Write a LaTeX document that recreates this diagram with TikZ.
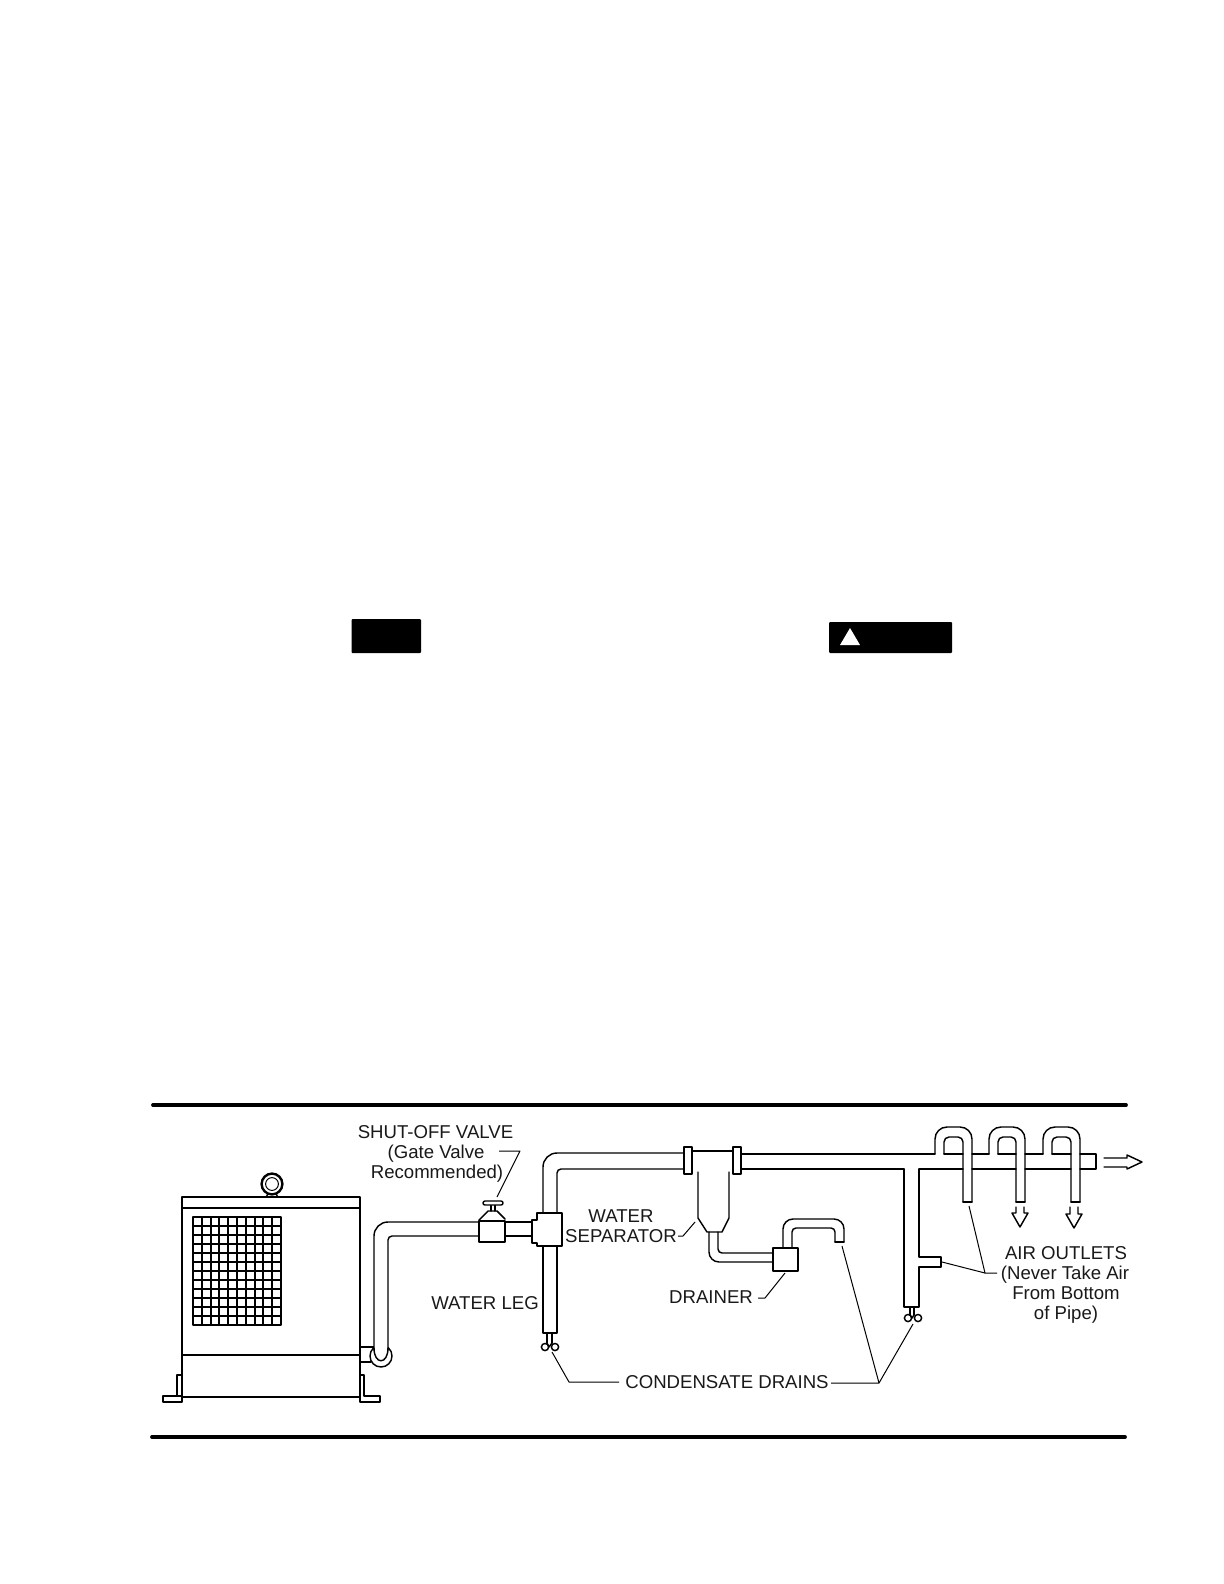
\documentclass[tikz,border=0pt]{standalone}
\usepackage{fontspec}
\setmainfont{Liberation Sans}
\tikzset{
  pipe/.style={line width=0.72pt,line join=round,line cap=round},
  heavy/.style={line width=1pt,line join=round},
  thin line/.style={line width=0.6pt,line join=round},
  leader/.style={line width=0.5pt,line join=round},
  rule/.style={line width=1.9pt,line cap=round},
  lbl/.style={font=\fontsize{9.3}{10}\selectfont,inner sep=0pt,anchor=center,text=black!90,text height=6.66pt,text depth=0pt},
  banner/.style={fill=black,draw=none,rounded corners=0.5pt}
}
\begin{document}
\begin{tikzpicture}[x=0.5pt,y=-0.5pt]
\useasboundingbox (0,0) rectangle (1224,1584);
\fill[white] (0,0) rectangle (1224,1584);
% banners
\fill[banner] (351.5,619) rectangle (421,653);
\fill[banner] (829,622) rectangle (952,653);
\fill[white] (840,645) -- (850,628) -- (860,645) -- cycle;
% rules
\draw[rule] (153,1105) -- (1126,1105);
\draw[rule] (152,1437) -- (1125,1437);
% cabinet
\draw[heavy] (182,1197) rectangle (360,1397);
\draw[pipe] (182,1208) -- (360,1208);
\draw[pipe] (182,1355) -- (360,1355);
% grid
\draw[thin line,line width=0.8pt] (193,1217) rectangle (281,1325);
\foreach \i in {1,...,9} \draw[thin line] ({round(193+8.8*\i)},1217) -- ({round(193+8.8*\i)},1325);
\foreach \i in {1,...,11} \draw[thin line] (193,{1217+9*\i}) -- (281,{1217+9*\i});
% lifting eye
\draw[heavy,line width=1.2pt] (272,1184) circle[radius=5.2pt];
\draw[pipe,line width=0.5pt] (272,1184) circle[radius=3.2pt];
\draw[pipe] (266,1197) -- (268,1194) (278,1197) -- (276,1194);
% feet
\draw[pipe] (182,1396) -- (177,1396) -- (177,1375) -- (182,1375);
\draw[pipe] (177,1396) -- (163,1396) -- (163,1402) -- (182,1402) -- (182,1397);
\draw[pipe] (360,1375) -- (364,1375) -- (364,1396) -- (380,1396) -- (380,1402) -- (360,1402) -- (360,1397);
% trap at cabinet
\draw[pipe] (360,1347) -- (374,1347);
\draw[pipe] (360,1362) -- (371,1362);
\draw[pipe] (381,1356) circle[radius=5.5pt];
\fill[white] (374,1300) rectangle (388,1350);
\draw[pipe] (374,1348) .. controls (374,1365) and (388,1365) .. (388,1348);
% pipe to valve
\draw[pipe,rounded corners=7pt] (374,1350) -- (374,1222) -- (479,1222);
\draw[pipe,rounded corners=2pt] (388,1350) -- (388,1236) -- (479,1236);
\draw[pipe] (505,1222) -- (532,1222) (505,1236) -- (532,1236);
% valve
\draw[heavy] (479,1221) rectangle (505,1242);
\draw[pipe] (479,1220) -- (488,1211) -- (497,1211) -- (505,1219);
\draw[pipe] (491,1205) -- (491,1211) (495,1205) -- (495,1211);
\draw[pipe,fill=white,rounded corners=1pt] (483,1201) rectangle (503,1205);
% tee and water leg
\draw[heavy] (532,1220) -- (537,1220) -- (537,1213) -- (562,1213) -- (562,1246) -- (537,1246) -- (537,1243) -- (532,1243) -- cycle;
\draw[pipe] (543,1246) -- (543,1333) -- (557,1333) -- (557,1246);
\draw[pipe] (547,1333) -- (547,1343) (552,1333) -- (552,1343);
\draw[pipe] (545,1347) circle[radius=1.8pt] (555,1347) circle[radius=1.8pt];
\draw[pipe] (547,1343) -- (549,1347) -- (552,1343);
% riser and main pipe
\draw[pipe,rounded corners=7pt] (543,1213) -- (543,1153) -- (684,1153);
\draw[pipe,rounded corners=2pt] (557,1213) -- (557,1169) -- (684,1169);
\draw[pipe] (684,1147) rectangle (692,1174);
\draw[pipe] (733,1147) rectangle (741,1174);
\draw[pipe] (692,1151) -- (733,1151);
% separator
\draw[pipe] (698,1172) -- (698,1218) -- (707,1232) -- (722,1232) -- (729,1218) -- (729,1172);
\draw[pipe,rounded corners=5pt] (709,1232) -- (709,1262) -- (773,1262);
\draw[pipe,rounded corners=2pt] (718,1232) -- (718,1253) -- (773,1253);
% drainer
\draw[heavy] (773,1248) rectangle (798,1271);
\draw[pipe,rounded corners=5pt] (783,1248) -- (783,1219) -- (844,1219) -- (844,1242);
\draw[pipe,rounded corners=2pt] (835,1242) -- (835,1228) -- (792,1228) -- (792,1248);
\draw[pipe] (835,1242) -- (844,1242);
% main pipe with loops
\draw[pipe] (741,1154) -- (935,1154) (944,1154) -- (963,1154) (972,1154) -- (989,1154) (998,1154) -- (1016,1154) (1025,1154) -- (1043,1154) (1052,1154) -- (1071,1154) (1080,1154) -- (1096,1154) -- (1096,1169) -- (1080,1169);
\draw[pipe] (741,1169) -- (904,1169) (919,1169) -- (963,1169) (972,1169) -- (1016,1169) (1025,1169) -- (1071,1169);
\foreach \a/\b/\c/\d in {935/944/963/972,989/998/1016/1025,1043/1052/1071/1080}{
  \draw[pipe,rounded corners=6pt] (\a,1154) -- (\a,1127) -- (\d,1127) -- (\d,1202);
  \draw[pipe,rounded corners=2.5pt] (\c,1202) -- (\c,1137) -- (\b,1137) -- (\b,1154);
  \draw[pipe] (\c,1202) -- (\d,1202);
}
% branch with side outlet
\draw[pipe] (904,1169) -- (904,1307) -- (919,1307) -- (919,1267) -- (941,1267) -- (941,1257) -- (919,1257) -- (919,1169);
\draw[pipe] (910,1307) -- (910,1315) (914,1307) -- (914,1315);
\draw[pipe] (908,1318) circle[radius=1.8pt] (918,1318) circle[radius=1.8pt];
\draw[pipe] (910,1315) -- (912,1318) -- (914,1315);
% flow arrows
\draw[pipe] (1104,1158) -- (1127,1158) -- (1127,1155) -- (1142,1162) -- (1127,1169) -- (1127,1167) -- (1104,1167);
\foreach \m/\t in {1020/1213,1074/1214}{
  \draw[pipe] ({\m-4},1207) -- ({\m-4},\t) -- ({\m-8},\t) -- (\m,{\t+14}) -- ({\m+8},\t) -- ({\m+4},\t) -- ({\m+4},1207);
}
% labels
\node[lbl] (shutoff) at (435.5,1132) {SHUT-OFF VALVE};
\node[lbl] (gate) at (436,1152) {(Gate Valve};
\node[lbl] (recommended) at (437,1172) {Recommended)};
\node[lbl] (waterleg) at (485,1303) {WATER LEG};
\node[lbl] (water) at (621,1216) {WATER};
\node[lbl] (separator) at (621,1236) {SEPARATOR};
\node[lbl] (drainer) at (711,1297) {DRAINER};
\node[lbl] (condensate) at (727,1382) {CONDENSATE DRAINS};
\node[lbl] (airoutlets) at (1066,1253) {AIR OUTLETS};
\node[lbl] (never) at (1065,1273) {(Never Take Air};
\node[lbl] (from) at (1066,1293) {From Bottom};
\node[lbl] (ofpipe) at (1066,1313) {of Pipe)};
% leaders
\coordinate (valvetop) at (497,1197);
\coordinate (sepwall) at (695,1222);
\coordinate (drainbox) at (785,1273);
\coordinate (leftdrain) at (552,1352);
\coordinate (rightdrain) at (913,1324);
\coordinate (drainpipe) at (842,1246);
\coordinate (outlet1) at (969,1206);
\coordinate (outlet2) at (942,1262);
\draw[leader] (499,1151) -- (520,1151) -- (valvetop);
\draw[leader] (678,1236) -- (683,1236) -- (sepwall);
\draw[leader] (758,1298) -- (765,1298) -- (drainbox);
\draw[leader] (leftdrain) -- (569,1382) -- (619,1382);
\draw[leader] (831,1383) -- (879,1383) -- (drainpipe);
\draw[leader] (879,1383) -- (rightdrain);
\draw[leader] (outlet1) -- (985,1273) -- (997,1273);
\draw[leader] (outlet2) -- (985,1273);
\end{tikzpicture}
\end{document}
